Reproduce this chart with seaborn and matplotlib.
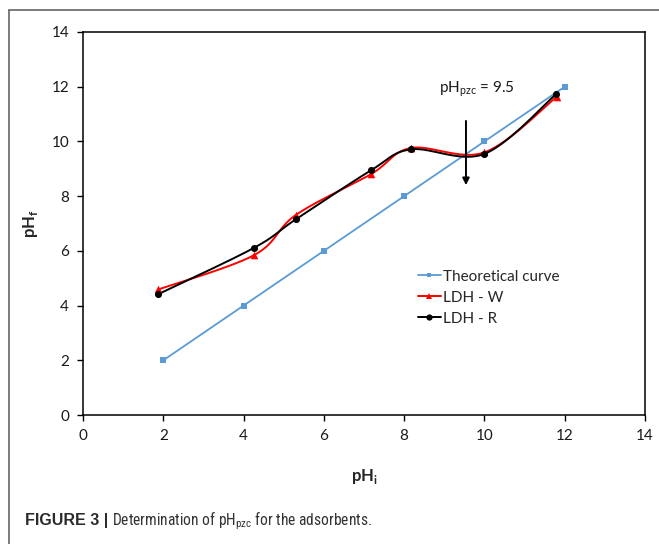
import numpy as np
import pandas as pd
import seaborn as sns
import matplotlib
matplotlib.use("Agg")
import matplotlib.pyplot as plt
from matplotlib.lines import Line2D
from matplotlib import font_manager

# ---- data ----
series_names = ["Theoretical curve", "LDH - W", "LDH - R"]
theo_x = [2, 4, 6, 8, 10, 12]
theo_y = [2, 4, 6, 8, 10, 12]
w_x = [1.88, 4.27, 5.30, 7.17, 8.17, 10.0, 11.8]
w_y = [4.59, 5.85, 7.31, 8.80, 9.76, 9.60, 11.63]
r_x = [1.88, 4.26, 5.30, 7.17, 8.17, 9.99, 11.78]
r_y = [4.42, 6.11, 7.15, 8.94, 9.71, 9.54, 11.72]
pzc_value = 9.5
x_ticks = [0, 2, 4, 6, 8, 10, 12, 14]
y_ticks = [0, 2, 4, 6, 8, 10, 12, 14]

sns.set_theme(style="white")
plt.rcParams["font.family"] = ["Lato", "DejaVu Sans"]
plt.rcParams["mathtext.fontset"] = "custom"
plt.rcParams["mathtext.rm"] = "Lato"
plt.rcParams["mathtext.bf"] = "Lato:bold"

installed = {f.name for f in font_manager.fontManager.ttflist}
cap_font = "Liberation Sans"
for cand in ["Liberation Sans Narrow", "DejaVu Sans Condensed", "Roboto Condensed"]:
    if cand in installed:
        cap_font = cand
        break
narrow = cap_font != "Liberation Sans"
plt.rcParams["mathtext.sf"] = cap_font


def smooth(xs, ys, n=30):
    """Excel-like smoothed line (cubic Bezier through the points)."""
    P = np.column_stack([xs, ys]).astype(float)
    out = []
    for i in range(len(P) - 1):
        p0 = P[i - 1] if i > 0 else P[i]
        p1 = P[i]
        p2 = P[i + 1]
        p3 = P[i + 2] if i + 2 < len(P) else P[i + 1]
        c1 = p1 + (p2 - p0) / 6.0
        c2 = p2 - (p3 - p1) / 6.0
        t = np.linspace(0, 1, n)[:, None]
        seg = ((1 - t) ** 3) * p1 + 3 * ((1 - t) ** 2) * t * c1 + 3 * (1 - t) * t ** 2 * c2 + t ** 3 * p2
        out.append(seg if i == 0 else seg[1:])
    a = np.vstack(out)
    return a[:, 0], a[:, 1]


fig = plt.figure(figsize=(6.59, 5.44), dpi=100)
ax = fig.add_axes([0.1259, 0.2371, 0.8529, 0.7041])

blue = "#5B9BD5"
red = "#FF0000"
black = "#000000"

sns.lineplot(x=theo_x, y=theo_y, ax=ax, color=blue, lw=1.3, sort=False, estimator=None)
sns.scatterplot(x=theo_x, y=theo_y, ax=ax, color=blue, marker="s", s=16, edgecolor=blue, linewidth=0, zorder=3)

sx, sy = smooth(w_x, w_y)
sns.lineplot(x=sx, y=sy, ax=ax, color=red, lw=1.4, sort=False, estimator=None)
sns.scatterplot(x=w_x, y=w_y, ax=ax, color=red, marker="^", s=30, edgecolor=red, linewidth=0, zorder=3)

sx, sy = smooth(r_x, r_y)
sns.lineplot(x=sx, y=sy, ax=ax, color=black, lw=1.4, sort=False, estimator=None)
sns.scatterplot(x=r_x, y=r_y, ax=ax, color=black, marker="o", s=26, edgecolor=black, linewidth=0, zorder=4)

ax.set_xlim(0, 14)
ax.set_ylim(0, 14)
ax.set_xticks(x_ticks)
ax.set_yticks(y_ticks)
ax.set_xticklabels([str(v) for v in x_ticks])
ax.set_yticklabels([str(v) for v in y_ticks])
ax.tick_params(axis="both", direction="out", length=4, width=1.0, color="black",
               labelsize=11, labelcolor="#1a1a1a", pad=6, bottom=True, left=True)
for s in ax.spines.values():
    s.set_visible(True)
    s.set_color("black")
    s.set_linewidth(1.1)

ax.set_xlabel(r"$\mathbf{pH}_\mathbf{i}$", fontsize=12, labelpad=17)
ax.set_ylabel(r"$\mathbf{pH}_\mathbf{f}$", fontsize=12, labelpad=8)

# arrow marking pHpzc
ax.annotate("", xy=(9.54, 8.3), xytext=(9.54, 10.85),
            arrowprops=dict(arrowstyle="-|>", color="black", lw=1.4, mutation_scale=10))
ax.text(8.88, 11.92, r"pH$_{\mathrm{pzc}}$ = " + str(pzc_value), fontsize=11,
        ha="left", va="center", color="#1a1a1a")

handles = [
    Line2D([], [], color=blue, lw=1.3, marker="s", markersize=3.5, markeredgewidth=0),
    Line2D([], [], color=red, lw=1.4, marker="^", markersize=5, markeredgewidth=0),
    Line2D([], [], color=black, lw=1.4, marker="o", markersize=4.5, markeredgewidth=0),
]
ax.legend(handles, series_names, loc="upper left", bbox_to_anchor=(0.585, 0.395),
          frameon=False, fontsize=11, handlelength=1.5, handletextpad=0.15,
          labelspacing=0.45, borderaxespad=0)

# figure frame (partial, as in the page crop)
fig.add_artist(Line2D([9 / 659, 9 / 659], [0, 1 - 10 / 544], color="#666666", lw=1.2))
fig.add_artist(Line2D([9 / 659, 1], [1 - 10 / 544, 1 - 10 / 544], color="#666666", lw=1.2))

# caption
reg_size = 11.2 if narrow else 10
fig.canvas.draw()
r = fig.canvas.get_renderer()
t1 = fig.text(25 / 659, 1 - 521 / 544, "FIGURE 3 |", fontsize=11.5, fontweight="bold",
              family="Liberation Sans", color="#2b2b2b", va="center", ha="left")
bb = t1.get_window_extent(renderer=r)
x2 = (bb.x1 + 4) / fig.bbox.width
fig.text(x2, 1 - 521 / 544,
         r"Determination of $\mathsf{pH}_{\mathsf{pzc}}$ for the adsorbents.",
         fontsize=reg_size, family=cap_font, color="#333333", va="center", ha="left")

fig.savefig("out.png", dpi=100)
